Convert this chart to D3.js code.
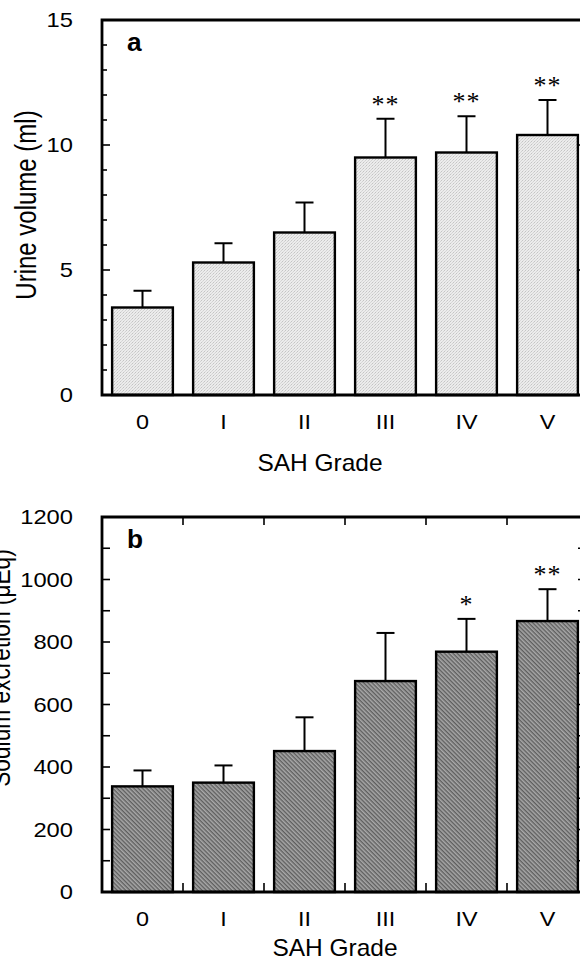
<!DOCTYPE html>
<html>
<head>
<meta charset="utf-8">
<script src="https://cdn.jsdelivr.net/npm/d3@7"></script>
<style>
  html, body { margin: 0; padding: 0; background: #fff; }
  svg { display: block; }
  text { font-family: "Liberation Sans", Arial, Helvetica, sans-serif; fill: #000; }
</style>
</head>
<body>
<svg id="chart" width="580" height="962"></svg>
<script>
// ---------- data ----------
const categories = ["0", "I", "II", "III", "IV", "V"];
const urineMean = [3.5, 5.3, 6.5, 9.5, 9.7, 10.4];
const urineSD = [0.67, 0.77, 1.2, 1.55, 1.45, 1.4];
const urineSig = ["", "", "", "**", "**", "**"];
const urineTicks = [0, 5, 10, 15];
const sodiumMean = [338, 350, 451, 675, 769, 867];
const sodiumSD = [51, 55, 108, 154, 105, 102];
const sodiumSig = ["", "", "", "", "*", "**"];
const sodiumTicks = [0, 200, 400, 600, 800, 1000, 1200];

const svg = d3.select("#chart");
const defs = svg.append("defs");

// light stipple fill (panel a)
const pa = defs.append("pattern").attr("id", "stipple").attr("patternUnits", "userSpaceOnUse")
  .attr("width", 3).attr("height", 3);
pa.append("rect").attr("width", 3).attr("height", 3).attr("fill", "#ececec");
pa.append("rect").attr("x", 0).attr("y", 0).attr("width", 1).attr("height", 1).attr("fill", "#c4c4c4");
pa.append("rect").attr("x", 2).attr("y", 1).attr("width", 1).attr("height", 1).attr("fill", "#d2d2d2");
pa.append("rect").attr("x", 1).attr("y", 2).attr("width", 1).attr("height", 1).attr("fill", "#d8d8d8");

// dark diagonal hatch (panel b), stripes running top-left to bottom-right
const pb = defs.append("pattern").attr("id", "hatch").attr("patternUnits", "userSpaceOnUse")
  .attr("width", 3).attr("height", 3).attr("patternTransform", "rotate(45)");
pb.append("rect").attr("width", 3).attr("height", 3).attr("fill", "#a8a8a8");
pb.append("rect").attr("x", 0).attr("y", 0).attr("width", 3).attr("height", 1.4).attr("fill", "#5e5e5e");

const X0 = 102, X1 = 588;

function stretchedText(g, x, y, str, size, anchor, sx, opts = {}) {
  const t = g.append("text")
    .attr("transform", `translate(${x},${y}) scale(${sx},1)`)
    .attr("text-anchor", anchor)
    .style("font-size", size + "px")
    .text(str);
  if (opts.weight) t.style("font-weight", opts.weight);
  return t;
}

function panel(cfg) {
  const g = svg.append("g");
  const x = d3.scaleBand().domain(categories).range([X0, X1]).paddingInner(0.25).paddingOuter(0.125);
  const y = d3.scaleLinear().domain([0, cfg.max]).range([cfg.bottom, cfg.top]);

  // bars
  g.selectAll("rect.bar").data(cfg.mean).join("rect")
    .attr("x", (d, i) => x(categories[i]))
    .attr("y", d => y(d))
    .attr("width", x.bandwidth())
    .attr("height", d => y(0) - y(d))
    .attr("fill", cfg.fill)
    .attr("stroke", "#000").attr("stroke-width", 2.4);

  // error bars
  cfg.mean.forEach((m, i) => {
    const cx = x(categories[i]) + x.bandwidth() / 2;
    const top = y(m + cfg.sd[i]);
    g.append("line").attr("x1", cx).attr("x2", cx).attr("y1", y(m)).attr("y2", top)
      .attr("stroke", "#000").attr("stroke-width", 2);
    g.append("line").attr("x1", cx - 9).attr("x2", cx + 9).attr("y1", top).attr("y2", top)
      .attr("stroke", "#000").attr("stroke-width", 2);
    if (cfg.sig[i]) {
      g.append("text").attr("x", cx).attr("y", top - 6).attr("text-anchor", "middle")
        .style("font-family", "'Liberation Serif', 'Times New Roman', serif")
        .style("font-size", "26px")
        .style("letter-spacing", "1px")
        .text(cfg.sig[i]);
    }
  });

  // axis ticks (minor + major), left and right
  const minor = d3.range(0, cfg.max + 1e-9, cfg.minorStep);
  minor.forEach(v => {
    const isMajor = cfg.ticks.includes(v);
    const len = isMajor ? 8 : cfg.minorLen;
    g.append("line").attr("x1", X0).attr("x2", X0 + len).attr("y1", y(v)).attr("y2", y(v))
      .attr("stroke", "#000").attr("stroke-width", 1.6);
    g.append("line").attr("x1", X1).attr("x2", X1 - len - 2).attr("y1", y(v)).attr("y2", y(v))
      .attr("stroke", "#000").attr("stroke-width", 1.6);
  });
  cfg.ticks.forEach(v => {
    stretchedText(g, 73, y(v) + 7, String(v), 21, "end", 1.13);
  });

  // category separator ticks (panel b only)
  if (cfg.catTicks) {
    const step = x.step();
    categories.slice(1).forEach(c => {
      const bx = x(c) - (step - x.bandwidth()) / 2;
      g.append("line").attr("x1", bx).attr("x2", bx).attr("y1", cfg.bottom).attr("y2", cfg.bottom - 9)
        .attr("stroke", "#000").attr("stroke-width", 1.6);
      g.append("line").attr("x1", bx).attr("x2", bx).attr("y1", cfg.top).attr("y2", cfg.top + 8)
        .attr("stroke", "#000").attr("stroke-width", 1.6);
    });
  }

  // frame
  g.append("path")
    .attr("d", `M${X0},${cfg.bottom}V${cfg.top}H${X1}V${cfg.bottom}Z`)
    .attr("fill", "none").attr("stroke", "#000").attr("stroke-width", 2.8);

  // category labels
  categories.forEach(c => {
    stretchedText(g, x(c) + x.bandwidth() / 2, cfg.bottom + 34, c, 19.5, "middle", 1.2);
  });

  // x title
  stretchedText(g, cfg.xTitleX, cfg.xTitleY, "SAH Grade", 24, "middle", 1.02);

  // y title
  g.append("text")
    .attr("transform", `translate(${cfg.yTitleX},${cfg.yTitleY}) rotate(-90) scale(1,1.2)`)
    .attr("text-anchor", "middle")
    .style("font-size", cfg.yTitleSize + "px")
    .text(cfg.yTitle);

  // panel letter
  stretchedText(g, 127, cfg.top + 31, cfg.letter, 25, "start", 1.05, { weight: "bold" });
}

panel({
  top: 20, bottom: 395, max: 15, minorStep: 1, minorLen: 5,
  mean: urineMean, sd: urineSD, sig: urineSig, ticks: urineTicks,
  fill: "url(#stipple)", catTicks: false,
  xTitleX: 320, xTitleY: 470.5,
  yTitle: "Urine volume (ml)", yTitleX: 36, yTitleY: 205, yTitleSize: 24,
  letter: "a"
});

panel({
  top: 517, bottom: 892, max: 1200, minorStep: 100, minorLen: 8,
  mean: sodiumMean, sd: sodiumSD, sig: sodiumSig, ticks: sodiumTicks,
  fill: "url(#hatch)", catTicks: true,
  xTitleX: 335, xTitleY: 956,
  yTitle: "Sodium excretion (\u03BCEq)", yTitleX: 10, yTitleY: 668, yTitleSize: 22.7,
  letter: "b"
});
</script>
</body>
</html>
